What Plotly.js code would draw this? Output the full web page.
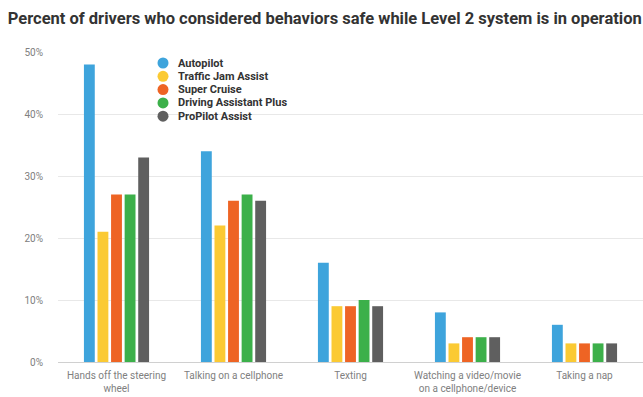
<!DOCTYPE html>
<html>
<head>
<meta charset="utf-8">
<script src="https://cdn.plot.ly/plotly-3.0.1.min.js"></script>
<style>html,body{margin:0;padding:0;background:#fff;}#chart{width:643px;height:397px;}</style>
</head>
<body>
<div id="chart"></div>
<script>
const categories = ["Hands off the steering<br>wheel", "Talking on a cellphone", "Texting", "Watching a video/movie<br>on a cellphone/device", "Taking a nap"];
const seriesNames = ["Autopilot", "Traffic Jam Assist", "Super Cruise", "Driving Assistant Plus", "ProPilot Assist"];
const autopilot = [48, 34, 16, 8, 6];
const trafficJamAssist = [21, 22, 9, 3, 3];
const superCruise = [27, 26, 9, 4, 3];
const drivingAssistantPlus = [27, 27, 10, 4, 3];
const proPilotAssist = [33, 26, 9, 4, 3];
const colors = ["#3ea4dc", "#fbca33", "#ee6424", "#3cb04a", "#5f5f5f"];
const values = [autopilot, trafficJamAssist, superCruise, drivingAssistantPlus, proPilotAssist];

const W = 643, H = 397;
const margin = {l: 58, r: 0, t: 52, b: 35};
const plotH = H - margin.t - margin.b;

const traces = values.map((v, i) => ({type: "bar", x: categories, y: v, name: seriesNames[i], marker: {color: colors[i]}, showlegend: false}));

// custom compact legend (circles + bold labels), positioned in paper coords
const legX = (163 - margin.l) / (W - margin.l - margin.r);
const legTop = 63, legStep = 13.3;
const shapes = [], annotations = [];
seriesNames.forEach((n, i) => {
  const py = legTop + i * legStep;
  const yp = (H - margin.b - py) / plotH;
  shapes.push({type: "circle", xref: "paper", yref: "paper", xsizemode: "pixel", ysizemode: "pixel", xanchor: legX, yanchor: yp, x0: -5.5, x1: 5.5, y0: -5.5, y1: 5.5, fillcolor: colors[i], line: {width: 0}});
  annotations.push({xref: "paper", yref: "paper", x: legX, y: yp, xshift: 13, xanchor: "left", yanchor: "middle", showarrow: false, text: "<b>" + n + "</b>", font: {family: "Roboto, sans-serif", size: 11, color: "#333"}});
});

const layout = {
  width: W, height: H,
  margin: margin,
  paper_bgcolor: "#fff", plot_bgcolor: "#fff",
  font: {family: "Roboto, sans-serif", color: "#808080", size: 10},
  title: {text: "<b>Percent of drivers who considered behaviors safe while Level 2 system is in operation</b>", x: 0.012, xanchor: "left", y: 0.955, yanchor: "middle", font: {family: "Roboto, sans-serif", size: 16.5, color: "#333"}},
  barmode: "group", bargap: 0.42, bargroupgap: 0.2,
  xaxis: {tickfont: {size: 10, color: "#808080"}, showgrid: false, zeroline: false, showline: false, ticks: "", ticklabelstandoff: 6, automargin: false},
  yaxis: {range: [0, 50], dtick: 10, ticksuffix: "%", gridcolor: "#e8e8e8", gridwidth: 1, zeroline: true, zerolinecolor: "#d0d0d0", zerolinewidth: 1, tickfont: {size: 10, color: "#808080"}, ticklabelstandoff: 14, automargin: false},
  shapes: shapes,
  annotations: annotations,
  showlegend: false
};
Plotly.newPlot("chart", traces, layout, {displayModeBar: false, staticPlot: true});
</script>
</body>
</html>
